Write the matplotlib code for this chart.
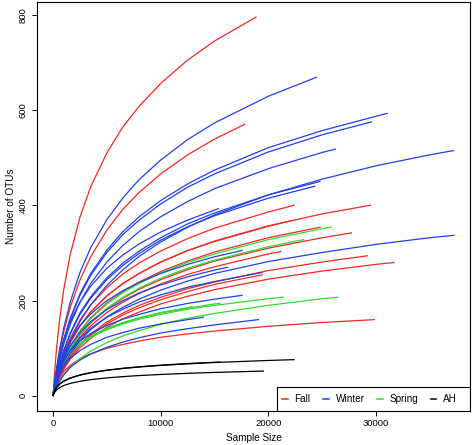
import matplotlib
matplotlib.use("Agg")
import matplotlib.pyplot as plt
from matplotlib.lines import Line2D
from matplotlib.patches import Rectangle

plt.rcParams["font.family"] = ["Liberation Sans", "DejaVu Sans"]

SAMPLE_SIZES = [0, 100, 300, 600, 1000, 1600, 2500, 3500, 5000, 6500, 8000,
                10000, 12500, 15000, 20000, 25000, 30000, 35000]

# Fall
FALL_END_X = [18850, 17800, 22380, 29460, 22200, 24790, 27700, 21140, 29180, 31660, 19420, 29830]
FALL_END_Y = [795, 570, 400, 400, 368, 354, 342, 303, 294, 280, 254, 160]
FALL_CURVES = [
    [1, 35, 93, 158, 224, 297, 375, 439, 510, 565, 608, 656, 705, 745],
    [1, 18.5, 51, 91, 135, 186, 243, 292, 348, 392, 427, 466, 506, 539],
    [1, 12, 33, 60, 88, 121, 159, 191, 227, 256, 279, 304, 330, 352, 386],
    [1, 11, 31, 55, 81, 112, 147, 176, 210, 236, 257, 281, 305, 325, 357, 382],
    [1, 11, 31, 55, 81, 112, 147, 176, 210, 236, 257, 281, 305, 324, 356],
    [1, 10.4, 29, 51, 76, 104, 136, 164, 195, 219, 239, 261, 283, 302, 332],
    [1, 9.7, 27, 48, 71, 97, 128, 153, 183, 205, 224, 244, 265, 283, 310, 332],
    [1, 9.3, 26, 46, 68, 93, 123, 147, 175, 197, 215, 235, 255, 271, 298],
    [1, 8.2, 23, 41, 60, 83, 108, 130, 155, 174, 190, 207, 225, 239, 263, 281],
    [1, 7.7, 21, 38, 56, 77, 101, 121, 144, 162, 176, 193, 209, 223, 245, 262, 276],
    [1, 8, 22, 40, 58, 81, 106, 127, 151, 170, 185, 202, 219, 234],
    [1, 10, 24, 38, 51, 64, 78, 88, 100, 108, 115, 123, 130, 136, 146, 154],
]

# Winter
WINTER_END_X = [24480, 31040, 29560, 26210, 37200, 24790, 24300, 37230, 15350,
                17550, 16220, 19420, 17550, 19070, 13960]
WINTER_END_Y = [669, 593, 575, 518, 515, 450, 440, 337, 393, 305, 270, 259, 211, 160, 165]
WINTER_CURVES = [
    [1, 20, 54, 97, 143, 197, 259, 311, 370, 416, 454, 495, 538, 573, 629],
    [1, 16, 45, 80, 119, 163, 214, 257, 306, 345, 376, 410, 445, 474, 521, 557, 587],
    [1, 16, 44, 79, 117, 161, 211, 253, 301, 339, 369, 403, 438, 466, 512, 548],
    [1, 15, 41, 74, 109, 150, 196, 236, 281, 316, 345, 376, 408, 435, 477, 511],
    [1, 10, 29, 53, 81, 115, 156, 191, 232, 265, 293, 323, 354, 380, 422, 455, 483, 506],
    [1, 13, 36, 65, 96, 132, 174, 208, 248, 279, 304, 332, 361, 384, 422],
    [1, 13, 36, 64, 94, 130, 171, 205, 244, 274, 299, 327, 355, 378, 415],
    [1, 8.8, 24, 44, 64, 88, 116, 139, 166, 186, 203, 222, 241, 257, 282, 301, 318, 332],
    [1, 18.5, 49, 83, 118, 156, 197, 230, 268, 296, 319, 344, 369, 390],
    [1, 14, 36, 62, 88, 116, 147, 172, 200, 221, 238, 257, 276, 292],
    [1, 12.5, 33, 56, 79, 105, 133, 156, 181, 200, 216, 233, 250, 264],
    [1, 11.4, 30, 51, 72, 96, 121, 142, 165, 182, 197, 212, 228, 240],
    [1, 15, 36, 57, 76, 95, 115, 131, 148, 161, 171, 183, 194, 203],
    [1, 7, 19, 32, 45, 60, 75, 88, 102, 113, 122, 132, 141, 149],
    [1, 12, 30, 47, 63, 79, 95, 108, 123, 133, 142, 151, 160],
]

# Spring
SPRING_END_X = [25810, 23250, 21380, 26430, 15500, 12900]
SPRING_END_Y = [354, 328, 207, 207, 194, 187]
SPRING_CURVES = [
    [1, 10.3, 28, 51, 75, 103, 135, 162, 193, 217, 236, 258, 280, 298, 328, 351],
    [1, 9.8, 27, 48, 71, 98, 129, 155, 184, 207, 226, 247, 268, 285, 313],
    [1, 14, 33.5, 53, 71, 89, 108, 123, 139, 151, 161, 171, 182, 190, 204],
    [1, 6, 16, 29, 43, 60, 78, 94, 112, 126, 137, 150, 163, 173, 190, 204],
    [1, 14, 34, 54, 72, 91, 110, 125, 141, 153, 163, 174, 184, 193],
    [1, 14, 34, 54, 72, 91, 110, 125, 142, 154, 164, 175, 185],
]

# AH
AH_END_X = [22380, 15510, 19530]
AH_END_Y = [76, 71, 52]
AH_CURVES = [
    [1, 7.7, 16.7, 24.4, 30.9, 37.2, 43.5, 48.4, 53.6, 57.5, 60.6, 63.9, 67.2, 70, 74.3],
    [1, 7.8, 16.8, 24.6, 31.1, 37.5, 43.9, 48.8, 54, 57.9, 61, 64.4, 67.8, 70.5],
    [1, 5.4, 11.7, 17.2, 21.7, 26.2, 30.6, 34, 37.7, 40.4, 42.6, 44.9, 47.3, 49.2],
]

GROUPS = ["Fall", "Winter", "Spring", "AH"]
COLORS = {"Fall": "#EE2A24", "Winter": "#2340E0", "Spring": "#2EDC2E", "AH": "#000000"}


def draw_group(ax, end_x, end_y, curves, color):
    for ex, ey, ys in zip(end_x, end_y, curves):
        xs = [s for s in SAMPLE_SIZES if s < ex][:len(ys)] + [ex]
        ax.plot(xs, list(ys) + [ey], color=color, lw=0.9, solid_joinstyle="round")


fig = plt.figure(figsize=(4.72, 4.45), dpi=100)
ax = fig.add_axes([37 / 472, 1 - 411 / 445, 433 / 472, 409 / 445])

draw_group(ax, FALL_END_X, FALL_END_Y, FALL_CURVES, COLORS["Fall"])
draw_group(ax, SPRING_END_X, SPRING_END_Y, SPRING_CURVES, COLORS["Spring"])
draw_group(ax, WINTER_END_X, WINTER_END_Y, WINTER_CURVES, COLORS["Winter"])
draw_group(ax, AH_END_X, AH_END_Y, AH_CURVES, COLORS["AH"])

ax.set_xlim(-1489, 38719)
ax.set_ylim(-31.8, 826.8)
ax.set_xticks([0, 10000, 20000, 30000])
ax.set_yticks([0, 200, 400, 600, 800])
ax.tick_params(axis="both", labelsize=6.8, length=3.6, width=0.7, color="black")
ax.tick_params(axis="x", pad=2)
ax.tick_params(axis="y", pad=3.2)
for lab in ax.get_yticklabels():
    lab.set_rotation(90)
    lab.set_va("center")
for sp in ax.spines.values():
    sp.set_linewidth(0.8)

ax.set_xlabel("Sample Size", fontsize=7.2)
ax.set_ylabel("Number of OTUs", fontsize=7.2)
ax.xaxis.set_label_coords(0.5, -0.054)
ax.yaxis.set_label_coords(-0.048, 0.5)

# legend box in the lower right corner
ax.add_patch(Rectangle((0.554, 0), 0.446, 0.0587, transform=ax.transAxes,
                       facecolor="white", edgecolor="black", lw=0.8, zorder=5))
handles = [Line2D([0], [0], color=COLORS[g], lw=1.1) for g in GROUPS]
leg = ax.legend(handles, GROUPS, loc="center left", bbox_to_anchor=(0.566, 0.0293),
                ncol=4, frameon=False, fontsize=7.2, handlelength=0.55,
                handletextpad=0.7, columnspacing=1.25, borderpad=0, borderaxespad=0)
leg.set_zorder(6)

fig.savefig("out.png", dpi=100)
plt.close(fig)
